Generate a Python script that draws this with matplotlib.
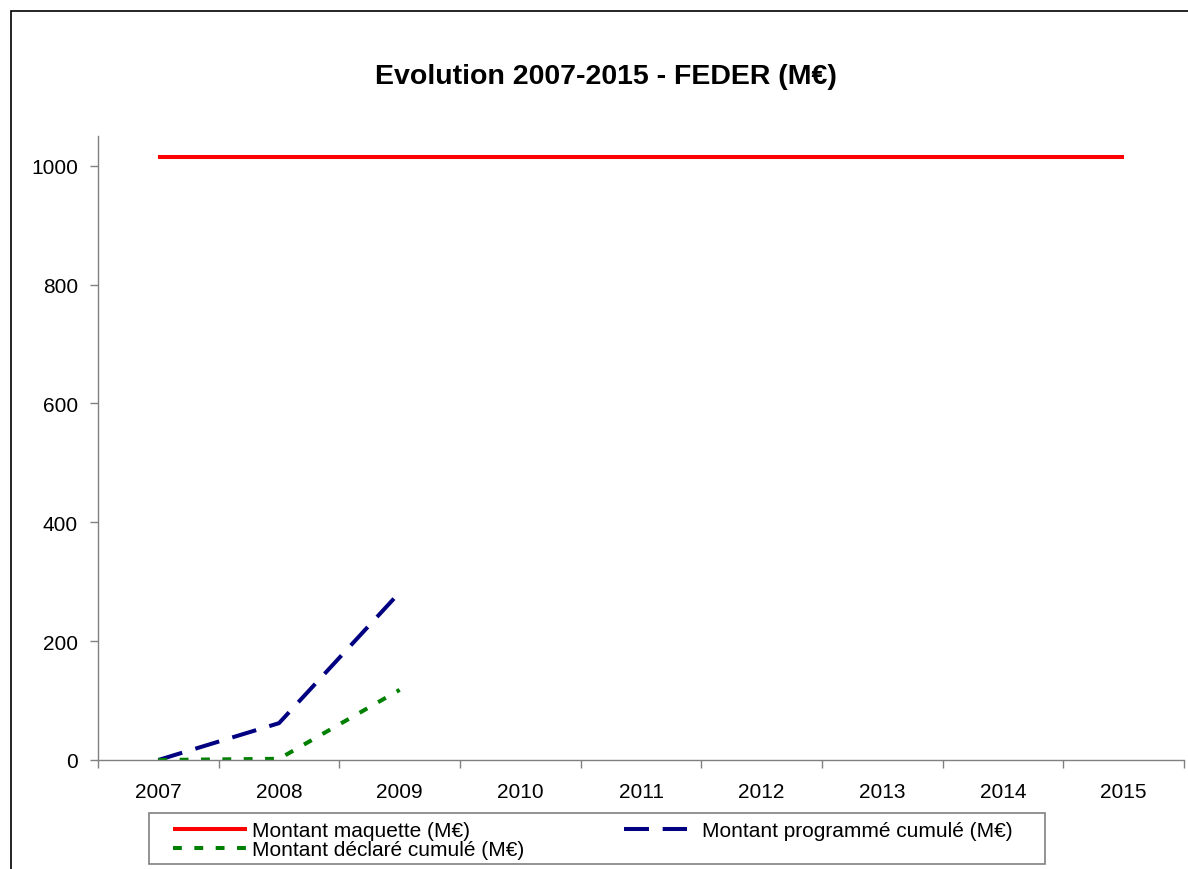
import numpy as np
import matplotlib
matplotlib.use("Agg")
import matplotlib.pyplot as plt
from matplotlib.patches import Rectangle

plt.rcParams["font.family"] = ["Liberation Sans", "DejaVu Sans"]

years = ["2007", "2008", "2009", "2010", "2011", "2012", "2013", "2014", "2015"]
maquette = [1015, 1015, 1015, 1015, 1015, 1015, 1015, 1015, 1015]
programme = [0, 62, 282]
declare = [0, 2, 118]

W, H = 1188, 870
x = np.arange(len(years))

fig = plt.figure(figsize=(W / 100, H / 100), dpi=100)
ax = fig.add_axes([98 / W, 1 - 761 / H, (1184 - 98) / W, (761 - 137) / H])

# outer frame of the chart area (cut on right and bottom)
fig.patches.append(Rectangle((11 / W, -0.1), 1.2, 1.1 - 12 / H, transform=fig.transFigure,
                             fill=False, edgecolor="#000000", linewidth=1.2))

l1, = ax.plot(x, maquette, color="#FF0000", lw=2.9, solid_capstyle="butt")
l2, = ax.plot(x[:3], programme, color="#000080", lw=2.9, linestyle=(0, (6.2, 3.4)))
l3, = ax.plot(x[:3], declare, color="#008000", lw=2.9, linestyle=(0, (2.2, 3.1)))

ax.set_xlim(-0.5, len(years) - 0.5)
ax.set_ylim(0, 1050)
ax.set_yticks([0, 200, 400, 600, 800, 1000])
ax.set_xticks(np.arange(-0.5, len(years)), labels=[])
ax.set_xticks(x, labels=years, minor=True)
ax.tick_params(axis="x", which="minor", length=0, pad=16, labelsize=15)
ax.tick_params(axis="x", which="major", length=6, color="#808080", width=1)
ax.tick_params(axis="y", length=6, color="#808080", width=1, labelsize=15, pad=8.5)
for s in ["top", "right"]:
    ax.spines[s].set_visible(False)
for s in ["left", "bottom"]:
    ax.spines[s].set_color("#808080")
    ax.spines[s].set_linewidth(1)

fig.text(606 / W, 1 - 84 / H, "Evolution 2007-2015 - FEDER (M€)", ha="center", va="baseline",
         fontsize=20.5, fontweight="bold")

# legend: box drawn separately, entries placed as two frameless legends
fig.patches.append(Rectangle((149 / W, 1 - 865 / H), (1045 - 149) / W, (865 - 814) / H,
                             transform=fig.transFigure, fill=False, edgecolor="#808080", linewidth=1.2))
leg1 = fig.legend([l1, l3], ["Montant maquette (M€)", "Montant déclaré cumulé (M€)"],
                  loc="center left", bbox_to_anchor=(173 / W, 1 - 841.5 / H),
                  bbox_transform=fig.transFigure, fontsize=15, frameon=False,
                  handlelength=3.55, handletextpad=0.24, labelspacing=0.0,
                  borderpad=0, borderaxespad=0)
leg2 = fig.legend([l2], ["Montant programmé cumulé (M€)"],
                  loc="center left", bbox_to_anchor=(624 / W, 1 - 832 / H),
                  bbox_transform=fig.transFigure, fontsize=15, frameon=False,
                  handlelength=3.0, handletextpad=0.72, borderpad=0, borderaxespad=0)

fig.savefig("out.png", dpi=100)
